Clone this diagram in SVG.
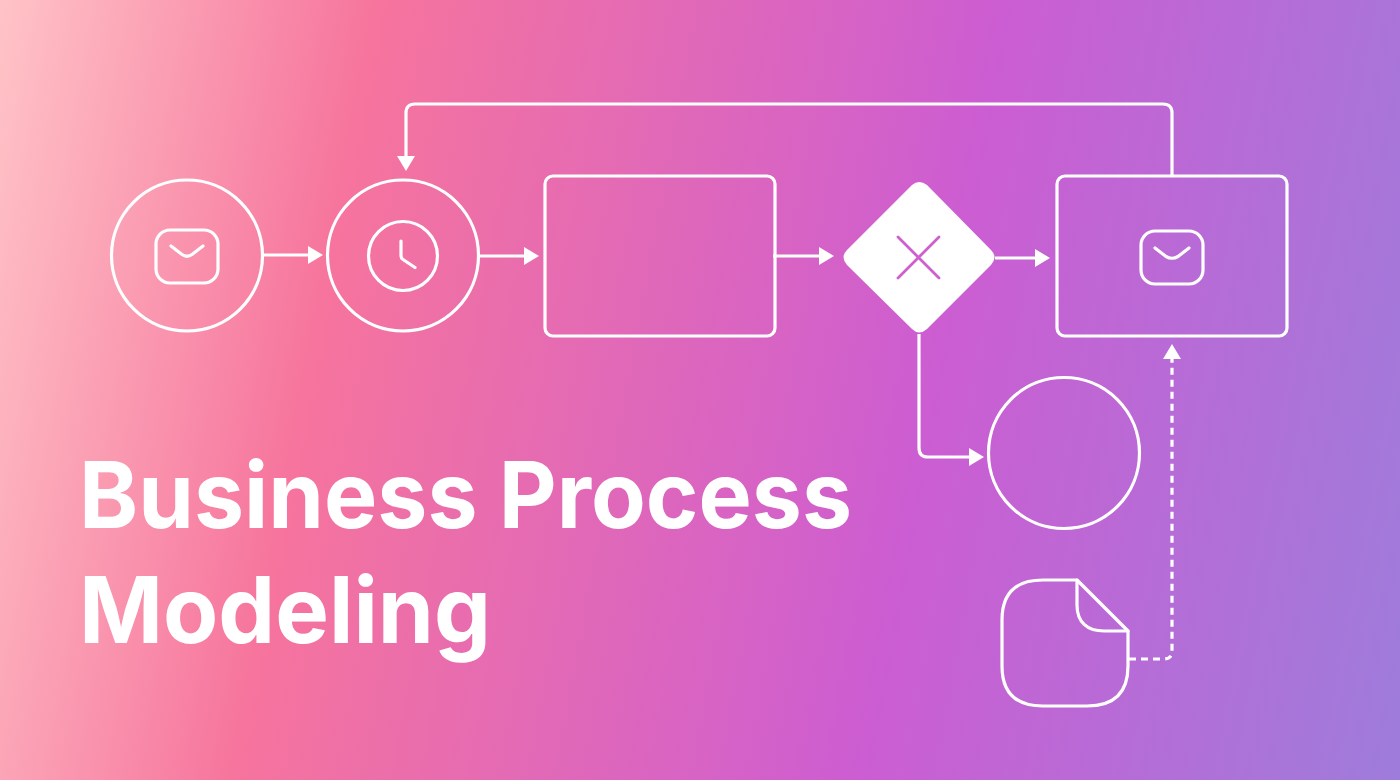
<svg xmlns="http://www.w3.org/2000/svg" width="1400" height="780" viewBox="0 0 1400 780">
<style>
.s{fill:none;stroke:#fff;stroke-width:3.2;stroke-linecap:round;stroke-linejoin:round}
.c{fill:none;stroke:#fff;stroke-width:3.2;stroke-linecap:butt;stroke-linejoin:round}
.t{fill:#fff;font-family:Inter,"Liberation Sans",sans-serif;font-weight:650;font-size:92px}
</style>
<defs>
<linearGradient id="bg" gradientUnits="userSpaceOnUse" x1="0" y1="0" x2="1493" y2="278">
<stop offset="0" stop-color="#ffc3c7"/><stop offset=".245" stop-color="#f6749d"/><stop offset=".65" stop-color="#cc5dd2"/><stop offset="1" stop-color="#9e7cdb"/>
</linearGradient>
<marker id="a" markerUnits="userSpaceOnUse" markerWidth="16" markerHeight="18" refX="8" refY="9" orient="auto"><path d="M0 0L15 9L0 18Z" fill="#fff"/></marker>
</defs>
<rect id="background" width="1400" height="780" fill="url(#bg)"/>
<g id="connectors">
<path class="c" d="M263 255H316" marker-end="url(#a)"/>
<path class="c" d="M479 256H532" marker-end="url(#a)"/>
<path class="c" d="M773 256H827" marker-end="url(#a)"/>
<path class="c" d="M995 258H1043" marker-end="url(#a)"/>
<path class="c" d="M1172 176V113Q1172 104 1163 104H415Q406 104 406 113V164" marker-end="url(#a)"/>
<path class="c" d="M919 334V448Q919 457 928 457H977" marker-end="url(#a)"/>
<path class="c" stroke-dasharray="7 5" d="M1129 659H1164Q1172 659 1172 651V351" marker-end="url(#a)"/>
</g>
<g id="start-event">
<circle class="s" cx="187" cy="255.500" r="75.500"/>
<rect class="s" x="156" y="230" width="62" height="53" rx="14"/>
<path class="s" d="M171 246L182 254.500Q187 258 192 254.500L203 246"/>
</g>
<g id="timer-event">
<circle class="s" cx="403" cy="255.500" r="75.500"/>
<circle class="s" cx="403" cy="256" r="34.500"/>
<path class="s" d="M401 241V256Q401 258 403 259.500L415 267.500"/>
</g>
<g id="task">
<rect class="s" x="545" y="176" width="230" height="160" rx="8"/>
</g>
<g id="gateway">
<path d="M912 185Q919 179 927 185L991 250Q998 257 991 265L927 329Q919 336 912 329L847 265Q840 257 847 250Z" fill="#fff"/>
<path d="M898 237L939 278M939 237L898 278" fill="none" stroke="#cf5ecf" stroke-width="2.800" stroke-linecap="round"/>
</g>
<g id="message-task">
<rect class="s" x="1057" y="176" width="230" height="160" rx="8"/>
<rect class="s" x="1141" y="231" width="62" height="53" rx="14"/>
<path class="s" d="M1155 248L1166 256.500Q1172 260 1178 256.500L1189 248"/>
</g>
<g id="end-event">
<circle class="s" cx="1064" cy="453" r="75.500"/>
</g>
<g id="data-object">
<path class="s" d="M1077 580H1043C1015 580 1002 594 1002 620V666C1002 692 1015 706 1043 706H1087C1115 706 1128 692 1128 666V631Z"/>
<path class="s" d="M1077 580V605C1077 622 1087 631 1104 631H1128"/>
</g>
<g id="title">
<text class="t" x="79" y="528" textLength="773" lengthAdjust="spacingAndGlyphs">Business Process</text>
<text class="t" x="79" y="642.500" textLength="412" lengthAdjust="spacingAndGlyphs">Modeling</text>
</g>
</svg>
